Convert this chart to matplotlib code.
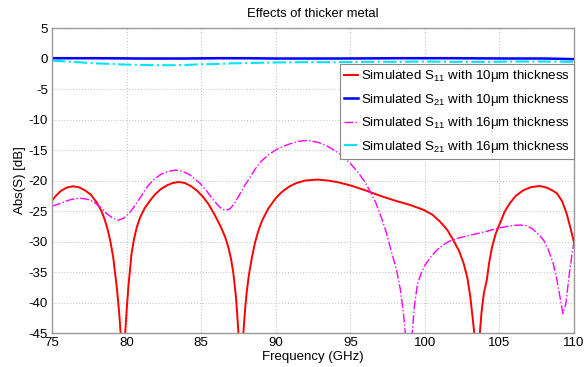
import matplotlib
matplotlib.use("Agg")
import matplotlib.pyplot as plt

plt.rcParams['font.family'] = ['Liberation Sans', 'DejaVu Sans']
plt.rcParams['mathtext.fontset'] = 'custom'
plt.rcParams['mathtext.rm'] = 'Liberation Sans'
plt.rcParams['mathtext.it'] = 'Liberation Sans'
plt.rcParams['axes.unicode_minus'] = False

# Simulated S11, 10 um metal (dB)
f_s11_10 = [75.0, 75.3, 75.6, 76.0, 76.4, 76.8, 77.2, 77.6, 78.0, 78.3, 78.55, 78.75,
            78.9, 79.1, 79.34, 79.5, 79.63, 79.75, 79.88, 80.0, 80.12, 80.34, 80.5, 80.68,
            80.9, 81.2, 81.57, 81.9, 82.3, 82.7, 83.1, 83.5, 83.9, 84.3, 84.7, 85.1,
            85.5, 85.9, 86.3, 86.6, 86.83, 87.0, 87.16, 87.35, 87.5, 87.66, 87.83, 87.95,
            88.06, 88.2, 88.39, 88.6, 88.84, 89.1, 89.5, 90.0, 90.4, 90.9, 91.4, 92.0,
            92.8, 93.5, 94.2, 95.0, 96.0, 97.0, 98.0, 99.0, 99.9, 100.5, 101.0, 101.5,
            101.9, 102.3, 102.6, 102.85, 103.04, 103.2, 103.35, 103.5, 103.65, 103.8, 103.95,
            104.15, 104.3, 104.5, 104.75, 105.0, 105.35, 105.7, 106.1, 106.6, 107.1, 107.7,
            108.2, 108.6, 108.85, 109.2, 109.5, 109.75, 110.0]
s11_10 = [-23.3, -22.4, -21.7, -21.15, -20.95, -21.1, -21.6, -22.3, -23.6, -24.9, -26.5, -28.2,
          -29.8, -32.5, -37.4, -41.5, -46.0, -55.0, -46.0, -41.5, -37.4, -31.9, -29.6, -27.7,
          -26.1, -24.6, -23.3, -22.3, -21.4, -20.8, -20.4, -20.25, -20.4, -20.9, -21.6, -22.6,
          -23.9, -25.6, -27.5, -29.2, -31.0, -32.8, -35.2, -39.5, -45.0, -55.0, -45.0, -41.0,
          -38.2, -35.5, -32.8, -30.3, -28.2, -26.5, -24.6, -22.9, -21.9, -21.0, -20.4, -20.0,
          -19.85, -20.0, -20.3, -20.8, -21.6, -22.5, -23.3, -24.0, -24.8, -25.6, -26.7, -28.1,
          -29.75, -31.6, -33.6, -36.0, -39.0, -42.5, -46.0, -55.0, -46.0, -41.5, -38.5,
          -36.3, -33.6, -30.9, -28.7, -27.2, -25.1, -23.7, -22.5, -21.6, -21.1, -20.9,
          -21.2, -21.7, -22.1, -23.4, -25.4, -27.7, -30.2]

# Simulated S21, 10 um metal (dB)
f_s21_10 = [75.0, 78.0, 81.0, 84.0, 86.0, 88.0, 90.0, 92.0, 94.0, 96.0, 98.0, 100.0,
            102.0, 104.0, 106.0, 108.0, 109.0, 110.0]
s21_10 = [0.05, 0.05, 0.0, 0.0, 0.05, 0.05, 0.0, 0.0, 0.0, 0.02, 0.05, 0.05,
          0.05, 0.02, 0.0, 0.0, -0.05, -0.1]

# Simulated S11, 16 um metal (dB)
f_s11_16 = [75.0, 75.4, 75.8, 76.3, 76.8, 77.2, 77.55, 77.9, 78.3, 78.7, 79.1, 79.45,
            79.8, 80.2, 80.6, 81.0, 81.3, 81.57, 81.9, 82.3, 82.8, 83.3, 83.8, 84.2,
            84.6, 84.9, 85.3, 85.7, 86.1, 86.4, 86.67, 86.95, 87.25, 87.6, 87.9, 88.2,
            88.6, 89.0, 89.5, 90.0, 90.5, 91.0, 91.5, 91.9, 92.4, 92.9, 93.4, 93.9,
            94.4, 95.0, 95.5, 96.0, 96.33, 96.7, 97.1, 97.4, 97.67, 97.9, 98.1, 98.35,
            98.56, 98.7, 98.9, 99.15, 99.3, 99.5, 99.75, 100.0, 100.4, 100.8, 101.2,
            101.6, 102.14, 102.8, 103.5, 104.2, 104.93, 105.6, 106.0, 106.4, 106.8,
            107.2, 107.6, 107.95, 108.3, 108.6, 108.85, 109.05, 109.25, 109.45, 109.6,
            109.75, 109.9, 110.0]
s11_16 = [-24.2, -23.9, -23.5, -23.1, -22.9, -23.0, -23.2, -23.7, -24.5, -25.5, -26.2, -26.5,
          -26.2, -25.3, -24.0, -22.5, -21.3, -20.5, -19.7, -19.0, -18.5, -18.3, -18.55, -19.0,
          -19.8, -20.4, -21.5, -22.8, -24.0, -24.7, -24.9, -24.6, -23.7, -22.2, -20.9, -19.8,
          -18.2, -16.9, -15.8, -15.0, -14.4, -13.95, -13.6, -13.45, -13.5, -13.8, -14.3, -15.0,
          -15.8, -17.2, -18.6, -20.3, -21.8, -23.6, -26.2, -28.4, -30.9, -32.9, -34.7, -37.8,
          -41.7, -45.5, -55.0, -45.0, -40.5, -37.0, -35.2, -33.9, -32.5, -31.4, -30.6,
          -30.0, -29.5, -29.1, -28.7, -28.3, -27.8, -27.5, -27.35, -27.3, -27.4,
          -27.9, -28.8, -29.75, -31.5, -33.6, -36.3, -39.0, -41.8, -40.2, -37.0,
          -34.0, -31.5, -30.0]

# Simulated S21, 16 um metal (dB)
f_s21_16 = [75.0, 76.0, 77.0, 78.0, 79.0, 80.0, 81.0, 82.0, 83.0, 84.0, 85.0, 86.0,
            87.0, 88.0, 89.0, 90.0, 92.0, 94.0, 96.0, 98.0, 100.0, 102.0, 104.0, 106.0,
            108.0, 110.0]
s21_16 = [-0.35, -0.5, -0.65, -0.8, -0.9, -1.0, -1.05, -1.1, -1.1, -1.05, -0.95, -0.9,
          -0.8, -0.75, -0.7, -0.65, -0.6, -0.6, -0.55, -0.55, -0.5, -0.55, -0.55, -0.5,
          -0.5, -0.55]

labels = [r'Simulated S$_{11}$ with 10$\mu$m thickness',
          r'Simulated S$_{21}$ with 10$\mu$m thickness',
          r'Simulated S$_{11}$ with 16$\mu$m thickness',
          r'Simulated S$_{21}$ with 16$\mu$m thickness']

fig = plt.figure(figsize=(5.84, 3.67), dpi=100)
ax = fig.add_axes([0.089, 0.0926, 0.894, 0.8311])

ax.plot(f_s11_10, s11_10, color='#ff0000', lw=1.4, label=labels[0])
ax.plot(f_s21_10, s21_10, color='#0000ff', lw=1.8, label=labels[1])
ax.plot(f_s11_16, s11_16, color='#ff00ff', lw=1.0, ls='-.', label=labels[2])
ax.plot(f_s21_16, s21_16, color='#00e5ff', lw=1.5, ls='-.', label=labels[3])

ax.set_xlim(75, 110)
ax.set_ylim(-45, 5)
ax.set_xticks(range(75, 111, 5))
ax.set_yticks(range(-45, 6, 5))
ax.grid(True, color='#c8c8c8', ls=':', lw=0.8)
ax.tick_params(length=0, labelsize=9.5, pad=3)
for sp in ax.spines.values():
    sp.set_color('#999999')
    sp.set_linewidth(1.0)

ax.set_title('Effects of thicker metal', fontsize=9.4, pad=8)
ax.set_xlabel('Frequency (GHz)', fontsize=9.5, labelpad=1)
ax.set_ylabel('Abs(S) [dB]', fontsize=9.5, labelpad=2)

leg = ax.legend(loc='upper right', bbox_to_anchor=(1.0, 0.881), borderaxespad=0,
                fontsize=9.6, fancybox=False, framealpha=1, edgecolor='#888888',
                handlelength=1.1, handletextpad=0.22, labelspacing=0.56,
                borderpad=0.3)
leg.get_frame().set_linewidth(0.8)

fig.savefig('out.png', dpi=100)
